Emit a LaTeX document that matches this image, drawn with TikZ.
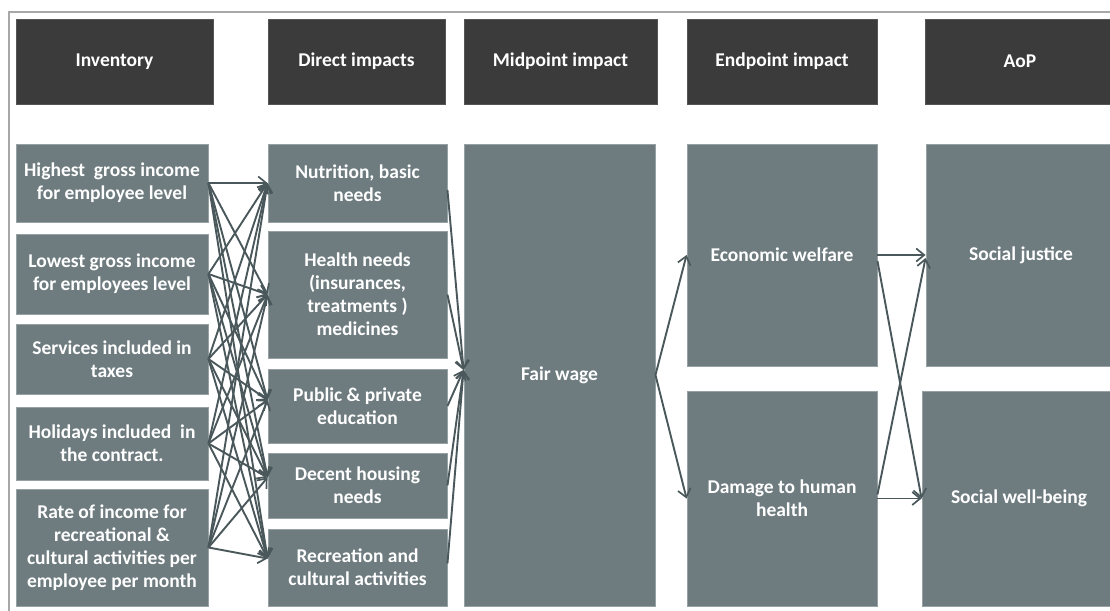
\documentclass[tikz,border=0pt]{standalone}
\usepackage{fontspec}
\setmainfont{Carlito}
\usetikzlibrary{arrows.meta,calc}

\definecolor{hdrfill}{HTML}{3B3B3B}
\definecolor{hdredge}{HTML}{555555}
\definecolor{slate}{HTML}{6E7C80}
\definecolor{slateedge}{HTML}{97A1A4}
\definecolor{wire}{HTML}{4A585B}
\definecolor{framegray}{HTML}{A8A8A8}

\begin{document}
\begin{tikzpicture}[x=1pt,y=-1pt,
  labelfont/.style={font=\bfseries\fontsize{19.5}{23}\selectfont},
  hdrbox/.style={fill=hdrfill, draw=hdredge, line width=0.8pt, text=white,
    labelfont, align=center, inner sep=0pt, minimum height=85pt},
  slatebox/.style={fill=slate, draw=slateedge, line width=0.9pt, text=white,
    labelfont, align=center, inner sep=0pt},
  link/.style={draw=wire, line width=1.9pt,
    -{Straight Barb[length=8pt,width=13pt,line width=1.7pt]}}
]
\useasboundingbox (0,0) rectangle (1110,610);

% outer frame
\draw[framegray, line width=1.1pt] (9,612) -- (9,12) -- (1112,12);

% column headers
\node[hdrbox, minimum width=197pt] (hinv) at (114.5,61.5) {Inventory};
\node[hdrbox, minimum width=177pt] (hdir) at (356.5,61.5) {Direct impacts};
\node[hdrbox, minimum width=193pt] (hmid) at (560.5,61.5) {Midpoint impact};
\node[hdrbox, minimum width=190pt] (hend) at (782,61.5) {Endpoint impact};
\node[hdrbox, minimum width=190pt] (haop) at (1020,61.5) {AoP};

% inventory
\node[slatebox, minimum width=192pt, minimum height=78pt]  (inv1) at (112,183)   {Highest\ \ gross income\\for employee level};
\node[slatebox, minimum width=192pt, minimum height=80pt]  (inv2) at (112,274)   {Lowest gross income\\for employees level};
\node[slatebox, minimum width=192pt, minimum height=70pt]  (inv3) at (112,359)   {Services included in\\taxes};
\node[slatebox, minimum width=192pt, minimum height=73pt]  (inv4) at (112,443.5) {Holidays included\ \ in\\the contract.};
\node[slatebox, minimum width=192pt, minimum height=117pt] (inv5) at (112,547.5) {Rate of income for\\recreational \&\\cultural activities per\\employee per month};

% direct impacts
\node[slatebox, minimum width=179pt, minimum height=78pt]  (dir1) at (357.5,183)   {Nutrition, basic\\needs};
\node[slatebox, minimum width=179pt, minimum height=127pt] (dir2) at (357.5,294.5) {Health needs\\(insurances,\\treatments )\\medicines};
\node[slatebox, minimum width=179pt, minimum height=74pt]  (dir3) at (357.5,406)   {Public \& private\\education};
\node[slatebox, minimum width=179pt, minimum height=65pt]  (dir4) at (357.5,485.5) {Decent housing\\needs};
\node[slatebox, minimum width=179pt, minimum height=77pt]  (dir5) at (357.5,567.5) {Recreation and\\cultural activities};

% midpoint
\node[slatebox, minimum width=191pt, minimum height=462pt] (fair) at (559.5,375) {Fair wage};

% endpoint
\node[slatebox, minimum width=190pt, minimum height=222pt] (econ) at (782,255)   {Economic welfare};
\node[slatebox, minimum width=190pt, minimum height=215pt] (dmg)  at (782,498.5) {Damage to human\\health};

% areas of protection
\node[slatebox, minimum width=190pt, minimum height=222pt] (sj)  at (1021,255)   {Social justice};
\node[slatebox, minimum width=194pt, minimum height=215pt] (swb) at (1019,498.5) {Social well-being};

% arrival points on the direct-impact boxes
\coordinate (din1) at (dir1.west);
\coordinate (din2) at (dir2.west);
\coordinate (din3) at ([yshift=6pt]dir3.west);
\coordinate (din4) at ([yshift=8pt]dir4.west);
\coordinate (din5) at ([yshift=9pt]dir5.west);

% every inventory item feeds every direct impact
\foreach \i in {1,...,5}{
  \foreach \j in {1,...,5}{
    \draw[link] (inv\i.east) -- (din\j);
  }
}

% direct impacts converge on the midpoint
\coordinate (fairin) at ([yshift=5pt]fair.west);
\draw[link] ([yshift=-7pt]dir1.east) -- (fairin);
\draw[link] (dir2.east) -- (fairin);
\draw[link] (dir3.east) -- (fairin);
\draw[link] (dir4.east) -- (fairin);
\draw[link] ([yshift=4pt]dir5.east) -- (fairin);

% midpoint to endpoints
\draw[link] (fair.east) -- (econ.west);
\draw[link] (fair.east) -- (dmg.west);

% endpoints to areas of protection
\draw[link] (econ.east) -- (sj.west);
\draw[link] ([yshift=-6pt]econ.east) -- (swb.west);
\draw[link] ([yshift=4pt]dmg.east) -- ([yshift=-3pt]sj.west);
\draw[link] (dmg.east) -- (swb.west);
\end{tikzpicture}
\end{document}
